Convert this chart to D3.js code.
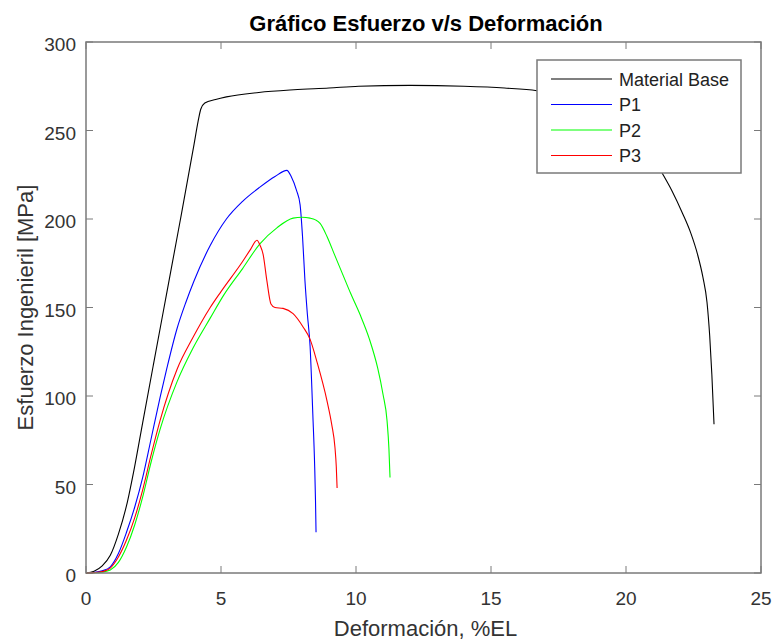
<!DOCTYPE html>
<html>
<head>
<meta charset="utf-8">
<script src="https://cdn.jsdelivr.net/npm/d3@7"></script>
<style>
  body { margin: 0; background: #fff; }
  text { font-family: "Liberation Sans", Arial, sans-serif; }
</style>
</head>
<body>
<div id="chart"></div>
<script>
// values: [deformacion %, esfuerzo MPa]
const seriesNames = ["Material Base", "P1", "P2", "P3"];
const seriesColors = ["#000000", "#0000ff", "#00ff00", "#ff0000"];

const base = [[0,0],[0.3,1],[0.6,4],[0.9,10],[1.2,22],[1.5,38],[1.8,60],[2.1,85],[2.5,118],[3.0,159],
  [3.5,200],[4.0,242],[4.15,255],[4.25,262],[4.4,265.5],[4.8,267.5],[5.2,269],
  [6.4,271.5],[7.7,273],[9,274],[10.1,275],[12,275.5],[14,275],[15.5,274],[16.7,272.5],[18,268],
  [19,262],[20,252],[20.8,240],[21.3,227],[21.7,216],[22.1,203],[22.4,192],[22.65,180],[22.85,167],
  [23.0,153],[23.1,134],[23.18,112],[23.26,84]];

const p1 = [[0,0],[0.3,0.3],[0.6,1.2],[0.9,3.5],[1.2,11],[1.5,23],[1.8,37],[2.1,54],[2.4,75],[2.74,99],
  [3.0,116],[3.37,138],[3.7,153],[4.0,165],[4.6,185],[5.2,200],[5.8,210],[6.44,218],
  [7.0,224],[7.44,227.5],[7.6,224],[7.8,216],[7.93,208],[8.02,190],[8.11,165],[8.2,146],[8.3,128],
  [8.4,90],[8.47,60],[8.5,41],[8.52,23]];

const p2 = [[0,0],[0.3,0.1],[0.6,0.5],[0.9,1.7],[1.2,6],[1.5,14.7],[1.8,27],[2.1,43],[2.4,62],[2.74,81],
  [3.37,108],[3.96,127],[4.6,144],[5.1,157],[5.8,172],[6.44,186],[7.07,195],[7.67,200.5],
  [8.0,201],[8.3,200.5],[8.5,199.5],[8.67,197.5],[8.93,190],[9.2,180],[9.5,169],[9.8,158],[10.15,146],
  [10.5,132],[10.8,116],[11.0,101],[11.15,86],[11.22,70],[11.26,54]];

const p3 = [[0,0],[0.3,0.2],[0.6,0.8],[0.9,2.8],[1.2,9],[1.5,18.6],[1.8,31],[2.1,47],[2.4,66],[2.74,86],
  [3.37,115],[3.96,133],[4.6,150],[5.0,159],[5.8,176],[6.1,183],[6.33,188],[6.45,185],
  [6.56,180],[6.7,165],[6.85,152],[7.0,150],[7.3,149.5],[7.67,146.5],[8.04,139],[8.3,132],[8.56,119],
  [8.93,97],[9.1,84],[9.22,71],[9.27,60],[9.3,48]];

const xTicks = [0, 5, 10, 15, 20, 25];
const yTicks = [0, 50, 100, 150, 200, 250, 300];

// box
const margin = { top: 42, bottom: 68, left: 86, right: 13 };
const width = 774 - margin.left - margin.right;
const height = 641 - margin.top - margin.bottom;

const svg = d3.select("#chart")
  .append("svg")
    .attr("width", 774)
    .attr("height", 641);

const g = svg.append("g")
  .attr("transform", `translate(${margin.left},${margin.top})`);

const x = d3.scaleLinear().domain([0, 25]).range([0, width]);
const y = d3.scaleLinear().domain([0, 300]).range([height, 0]);

const axisColor = "#7a7a7a";
const tickLen = 7;

// ticks pointing inwards, on all four sides
g.selectAll(".xt").data(xTicks).join("line")
  .attr("x1", d => x(d)).attr("x2", d => x(d))
  .attr("y1", height).attr("y2", height - tickLen)
  .attr("stroke", axisColor);
g.selectAll(".xt2").data(xTicks).join("line")
  .attr("x1", d => x(d)).attr("x2", d => x(d))
  .attr("y1", 0).attr("y2", tickLen)
  .attr("stroke", axisColor);
g.selectAll(".yt").data(yTicks).join("line")
  .attr("x1", 0).attr("x2", tickLen)
  .attr("y1", d => y(d)).attr("y2", d => y(d))
  .attr("stroke", axisColor);
g.selectAll(".yt2").data(yTicks).join("line")
  .attr("x1", width).attr("x2", width - tickLen)
  .attr("y1", d => y(d)).attr("y2", d => y(d))
  .attr("stroke", axisColor);

// tick labels
g.append("g").selectAll("text").data(xTicks).join("text")
  .attr("x", d => x(d))
  .attr("y", height + 32)
  .attr("text-anchor", "middle")
  .style("font-size", "19px")
  .style("fill", "#333")
  .text(d => d);
g.append("g").selectAll("text").data(yTicks).join("text")
  .attr("x", -10)
  .attr("y", d => y(d) + 9)
  .attr("text-anchor", "end")
  .style("font-size", "19px")
  .style("fill", "#333")
  .text(d => d);

// curves
const line = d3.line()
  .x(d => x(d[0]))
  .y(d => y(d[1]))
  .curve(d3.curveMonotoneX);

const allSeries = [base, p1, p2, p3];
g.append("g").selectAll("path").data(allSeries).join("path")
  .attr("d", line)
  .attr("fill", "none")
  .attr("stroke", (d, i) => seriesColors[i])
  .attr("stroke-width", 1.1);

// axes box
g.append("rect")
  .attr("width", width)
  .attr("height", height)
  .attr("fill", "none")
  .attr("stroke", axisColor)
  .attr("stroke-width", 1.5);

// legend
const legend = svg.append("g").attr("transform", "translate(537,60)");
legend.append("rect")
  .attr("width", 204)
  .attr("height", 113)
  .attr("fill", "#fff")
  .attr("stroke", axisColor)
  .attr("stroke-width", 1.5);
const rows = legend.selectAll(".row").data(seriesNames).join("g")
  .attr("transform", (d, i) => `translate(0,${19 + i * 25.5})`);
rows.append("line")
  .attr("x1", 14).attr("x2", 75)
  .attr("stroke", (d, i) => seriesColors[i])
  .attr("stroke-width", 1.1);
rows.append("text")
  .attr("x", 82).attr("y", 6.5)
  .style("font-size", "18px")
  .style("fill", "#222")
  .text(d => d);

// title and axis labels
svg.append("text")
  .attr("x", 426).attr("y", 31)
  .attr("text-anchor", "middle")
  .style("font-size", "22px")
  .style("font-weight", "bold")
  .style("fill", "#000")
  .text("Gráfico Esfuerzo v/s Deformación");

svg.append("text")
  .attr("x", margin.left + width / 2 + 2).attr("y", 636)
  .attr("text-anchor", "middle")
  .style("font-size", "22px")
  .style("fill", "#333")
  .text("Deformación, %EL");

svg.append("text")
  .attr("transform", `translate(33,${margin.top + height / 2}) rotate(-90)`)
  .attr("text-anchor", "middle")
  .style("font-size", "22px")
  .style("fill", "#333")
  .text("Esfuerzo Ingenieril [MPa]");
</script>
</body>
</html>
